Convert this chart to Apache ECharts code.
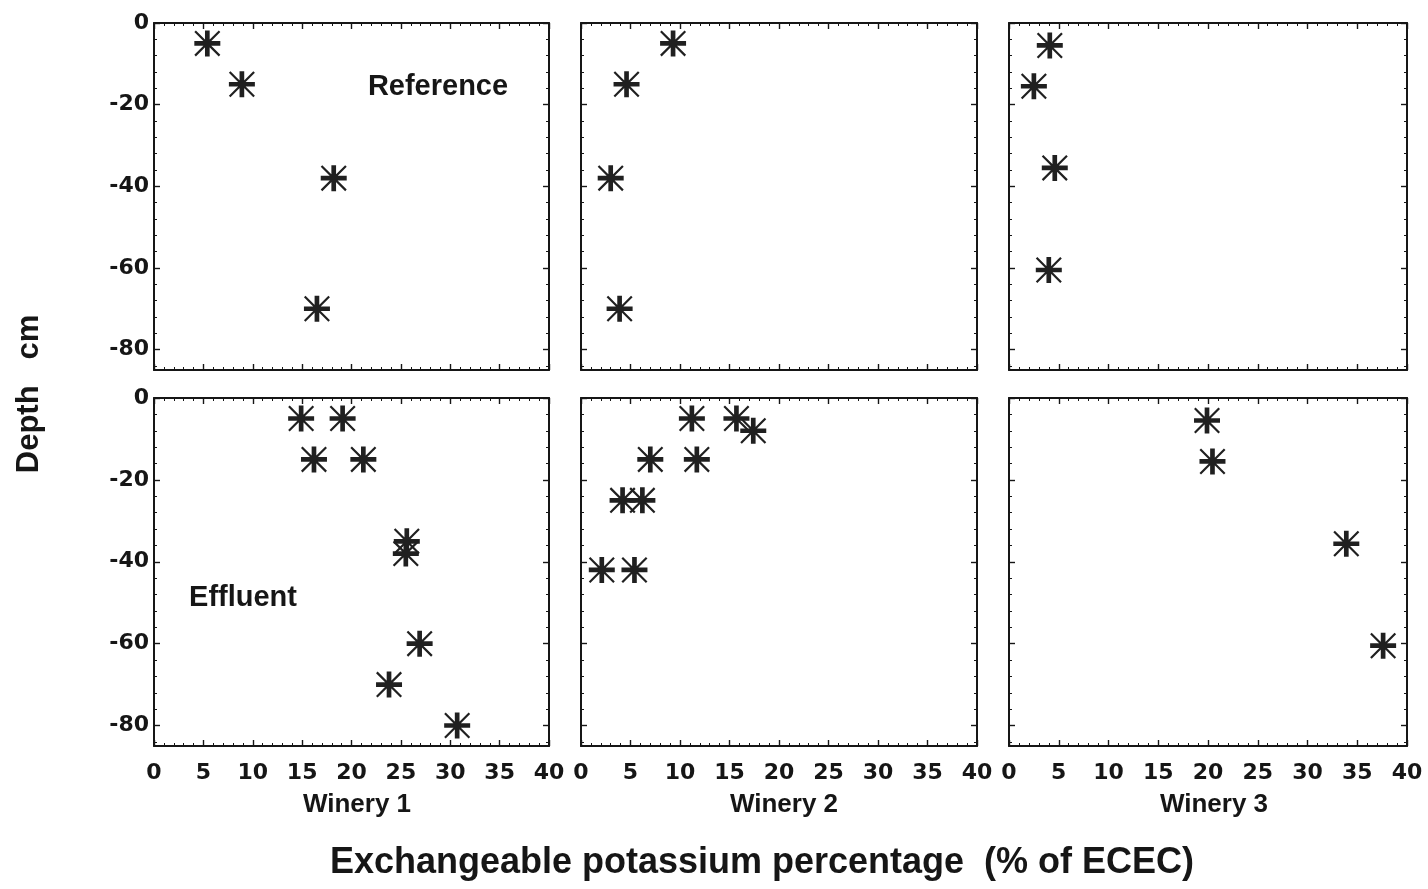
<!DOCTYPE html>
<html><head><meta charset="utf-8">
<script src="https://cdn.jsdelivr.net/npm/echarts@6/dist/echarts.min.js"></script>
<style>html,body{margin:0;padding:0;background:#fff}#c{width:1428px;height:889px}</style>
</head><body><div id="c"></div>
<script>
// ---------- data ----------
const wineries = ['Winery 1', 'Winery 2', 'Winery 3'];
const rowLabels = ['Reference', 'Effluent'];
const xAxisTitle = 'Exchangeable potassium percentage  (% of ECEC)';
const yAxisTitle = 'Depth   cm';
const xTickValues = [0, 5, 10, 15, 20, 25, 30, 35, 40];
const yTickValues = [0, -20, -40, -60, -80];
const yMinorTickValues = [-4, -8, -12, -16, -24, -28, -32, -36, -44, -48, -52, -56, -64, -68, -72, -76, -84];

// Reference soils
const ref1X = [5.4, 8.9, 18.2, 16.5];
const ref1Y = [-5, -15, -38, -70];
const ref2X = [9.3, 4.6, 3.0, 3.9];
const ref2Y = [-5, -15, -38, -70];
const ref3X = [4.1, 2.5, 4.6, 4.0];
const ref3Y = [-5.5, -15.5, -35.5, -60.5];
// Effluent-irrigated soils
const eff1X = [14.9, 19.1, 16.2, 21.2, 25.6, 25.5, 26.9, 23.8, 30.7];
const eff1Y = [-5, -5, -15, -15, -35, -38, -60, -70, -80];
const eff2X = [11.2, 15.7, 17.4, 7.0, 11.7, 4.2, 6.2, 2.1, 5.4];
const eff2Y = [-5, -5, -8, -15, -15, -25, -25, -42, -42];
const eff3X = [19.9, 20.45, 33.9, 37.6];
const eff3Y = [-5.5, -15.5, -35.6, -60.5];

// ---------- layout ----------
const colLeft = [154, 581, 1009];
const colWidth = [395, 396, 398];
const rowTop = [23, 398];
const rowHeight = [347, 348];

const panels = [
  {row: 0, col: 0, xs: ref1X, ys: ref1Y},
  {row: 0, col: 1, xs: ref2X, ys: ref2Y},
  {row: 0, col: 2, xs: ref3X, ys: ref3Y},
  {row: 1, col: 0, xs: eff1X, ys: eff1Y},
  {row: 1, col: 1, xs: eff2X, ys: eff2Y},
  {row: 1, col: 2, xs: eff3X, ys: eff3Y}
];

const INK = '#161616';
const tickFont = {fontFamily: 'DejaVu Sans', fontWeight: 'bold', fontSize: 22, color: INK};
const asterisk = 'path://M0 41L100 41L100 59L0 59Z M41 0L59 0L59 100L41 100Z M6 0L100 94L94 100L0 6Z M94 0L100 6L6 100L0 94Z';

const grid = [], xAxis = [], yAxis = [], series = [];
panels.forEach((p, i) => {
  grid.push({left: colLeft[p.col], top: rowTop[p.row], width: colWidth[p.col], height: rowHeight[p.row], containLabel: false, outerBoundsMode: 'none'});
  const xBase = {
    type: 'value', gridIndex: i, min: 0, max: 40, interval: 5,
    axisLine: {show: true, onZero: false, lineStyle: {color: INK, width: 2}},
    axisTick: {show: true, inside: true, length: 6, lineStyle: {color: INK, width: 1.4}},
    minorTick: {show: true, splitNumber: 5, length: 3, lineStyle: {color: INK, width: 1}},
    splitLine: {show: false}
  };
  xAxis.push(Object.assign({}, xBase, {
    position: 'bottom',
    axisLabel: Object.assign({show: p.row === 1, margin: 16,
      customValues: xTickValues}, tickFont)
  }));
  xAxis.push(Object.assign({}, xBase, {position: 'top', axisLabel: {show: false}}));
  const yBase = {type: 'value', gridIndex: i, min: -85, max: 0, splitLine: {show: false}};
  // left major
  yAxis.push(Object.assign({}, yBase, {
    position: 'left',
    axisLine: {show: true, onZero: false, lineStyle: {color: INK, width: 2}},
    axisTick: {show: true, inside: true, length: 6, customValues: yTickValues, lineStyle: {color: INK, width: 1.4}},
    axisLabel: Object.assign({show: p.col === 0, margin: 5, customValues: yTickValues}, tickFont)
  }));
  // left minor
  yAxis.push(Object.assign({}, yBase, {
    position: 'left',
    axisLine: {show: false, onZero: false},
    axisTick: {show: true, inside: true, length: 3, customValues: yMinorTickValues, lineStyle: {color: INK, width: 1}},
    axisLabel: {show: false}
  }));
  // right major
  yAxis.push(Object.assign({}, yBase, {
    position: 'right',
    axisLine: {show: true, onZero: false, lineStyle: {color: INK, width: 2}},
    axisTick: {show: true, inside: true, length: 6, customValues: yTickValues, lineStyle: {color: INK, width: 1.4}},
    axisLabel: {show: false}
  }));
  // right minor
  yAxis.push(Object.assign({}, yBase, {
    position: 'right',
    axisLine: {show: false, onZero: false},
    axisTick: {show: true, inside: true, length: 3, customValues: yMinorTickValues, lineStyle: {color: INK, width: 1}},
    axisLabel: {show: false}
  }));
  series.push({
    type: 'scatter',
    xAxisIndex: 2 * i,
    yAxisIndex: 4 * i,
    symbol: asterisk,
    symbolSize: 26,
    itemStyle: {color: '#202020', opacity: 1},
    data: p.xs.map((x, k) => [x, p.ys[k]]),
    silent: true
  });
});

function txt(text, x, y, size, rot) {
  return {
    type: 'text', x: x, y: y, rotation: rot || 0, silent: true,
    style: {text: text, fill: INK, font: 'bold ' + size + 'px "Liberation Sans", Arial, sans-serif',
      align: 'center', verticalAlign: 'middle', textAlign: 'center', textVerticalAlign: 'middle'}
  };
}

const graphic = [
  txt(rowLabels[0], 438, 87, 29),
  txt(rowLabels[1], 243, 598, 29),
  txt(wineries[0], 357, 805, 26),
  txt(wineries[1], 784, 805, 26),
  txt(wineries[2], 1214, 805, 26),
  txt(xAxisTitle, 762, 863, 36),
  txt(yAxisTitle, 29, 394, 31, Math.PI / 2)
];

const chart = echarts.init(document.getElementById('c'), null, {renderer: 'canvas'});
chart.setOption({
  backgroundColor: '#ffffff',
  animation: false,
  grid: grid,
  xAxis: xAxis,
  yAxis: yAxis,
  series: series,
  graphic: graphic
});
</script>
</body></html>
